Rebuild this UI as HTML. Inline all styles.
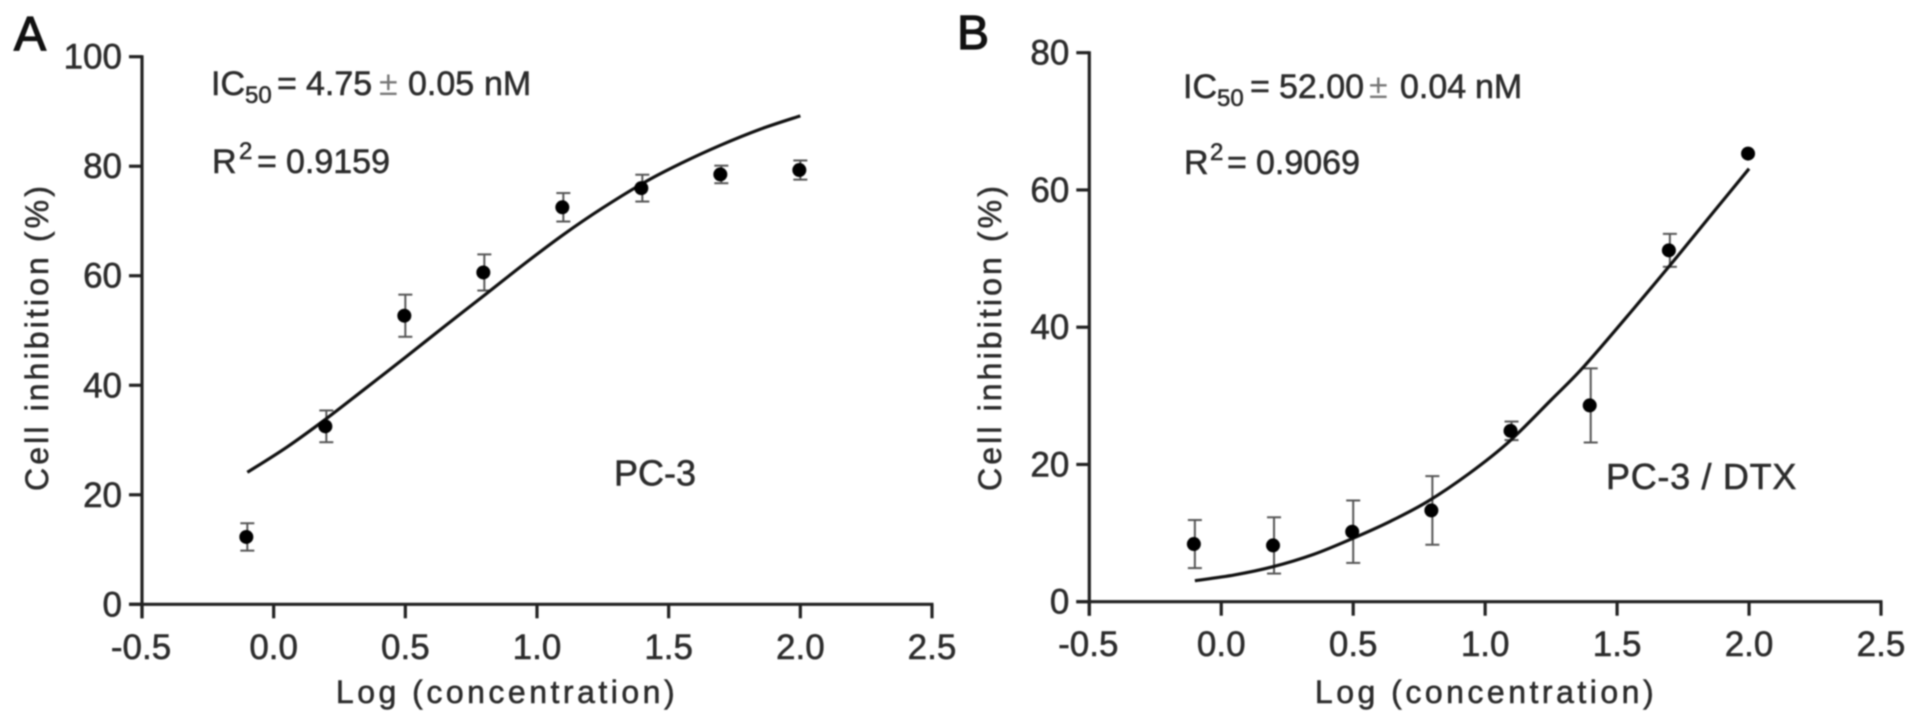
<!DOCTYPE html>
<html lang="en">
<head>
<meta charset="utf-8">
<title>Cell inhibition dose-response curves</title>
<style>
html,body{margin:0;padding:0;background:#fff;width:1913px;height:724px;overflow:hidden}
svg{display:block;filter:blur(0.7px)}
text{font-family:"Liberation Sans",Arial,sans-serif;fill:#2c2c2c;stroke:#2c2c2c;stroke-width:0.55px}
.tick{font-size:35px}
.title{font-size:32px}
.note{font-size:34px}
.sub{font-size:24px}
.pm{fill:#777;stroke:none}
.letter{font-size:48px;fill:#111;stroke:#111;stroke-width:1.3px}
</style>
</head>
<body>
<svg id="figure" xmlns="http://www.w3.org/2000/svg" width="1913" height="724" viewBox="0 0 1913 724">
  <rect width="1913" height="724" fill="#fff"/>

  <g id="panel-a">
    <text class="letter" x="14" y="50">A</text>
    <text class="note" x="211" y="95">IC<tspan class="sub" x="245" y="103">50</tspan><tspan x="277" y="95">=</tspan><tspan x="306" y="95">4.75</tspan><tspan class="pm" x="379" y="95">±</tspan><tspan x="408" y="95">0.05</tspan><tspan x="484" y="95">nM</tspan></text>
    <text class="note" x="212" y="173">R<tspan class="sub" x="239" y="159">2</tspan><tspan x="257" y="173">=</tspan><tspan x="286" y="173">0.9159</tspan></text>
    <text class="note" x="614" y="485.5" font-size="36" style="font-size:36px">PC-3</text>
    <text class="title" x="507" y="703" text-anchor="middle" letter-spacing="3.5">Log (concentration)</text>
    <text class="title" transform="translate(48 337) rotate(-90)" text-anchor="middle" letter-spacing="3.1">Cell inhibition (%)</text>
  </g>

  <g id="panel-b">
    <text class="letter" x="957" y="49">B</text>
    <text class="note" x="1183" y="98">IC<tspan class="sub" x="1217" y="106">50</tspan><tspan x="1250" y="98">=</tspan><tspan x="1279" y="98">52.00</tspan><tspan class="pm" x="1369" y="98">±</tspan><tspan x="1400" y="98">0.04</tspan><tspan x="1475" y="98">nM</tspan></text>
    <text class="note" x="1184" y="174">R<tspan class="sub" x="1210" y="160">2</tspan><tspan x="1227" y="174">=</tspan><tspan x="1256" y="174">0.9069</tspan></text>
    <text class="note" x="1606" y="489" letter-spacing="0.7" style="font-size:36px">PC-3 / DTX</text>
    <text class="title" x="1486" y="703" text-anchor="middle" letter-spacing="3.5">Log (concentration)</text>
    <text class="title" transform="translate(1001 337) rotate(-90)" text-anchor="middle" letter-spacing="3.1">Cell inhibition (%)</text>
  </g>
</svg>

<script>
// Shared x data
var doseLog = [-0.1, 0.2, 0.5, 0.8, 1.1, 1.4, 1.7, 2.0];
var xTicks = [-0.5, 0.0, 0.5, 1.0, 1.5, 2.0, 2.5];
var xTickLabels = ['-0.5', '0.0', '0.5', '1.0', '1.5', '2.0', '2.5'];

// Panel A data
var aInhibition = [12.3, 32.5, 52.7, 60.6, 72.5, 76.0, 78.5, 79.3];
var aError = [2.5, 2.9, 3.85, 3.3, 2.6, 2.45, 1.6, 1.75];
var aCurveLog = [-0.1, 0.05, 0.2, 0.34, 0.5, 0.65, 0.81, 0.95, 1.1, 1.25, 1.417, 1.55, 1.695, 1.85, 2.0];
var aCurveValue = [24.1, 28.7, 33.9, 39.1, 45.1, 50.8, 56.8, 62.1, 67.5, 72.4, 77.3, 80.6, 83.8, 86.8, 89.2];
var aYTicks = [0, 20, 40, 60, 80, 100];

// Panel B data
var bInhibition = [8.4, 8.2, 10.2, 13.3, 24.9, 28.6, 51.2, 65.3];
var bError = [3.5, 4.1, 4.55, 5.0, 1.35, 5.4, 2.4, 0];
var bCurveLog = [-0.1, 0.05, 0.196, 0.35, 0.499, 0.64, 0.782, 0.94, 1.09, 1.25, 1.375, 1.565, 1.728, 1.87, 2.0];
var bCurveValue = [3.06, 3.9, 5.1, 6.9, 9.24, 11.7, 14.6, 18.7, 23.3, 29.4, 34.3, 42.8, 50.3, 57.0, 63.1];
var bYTicks = [0, 20, 40, 60, 80];

var SVGNS = 'http://www.w3.org/2000/svg';
var AXIS = '#222';

function makeLine(parent, x1, y1, x2, y2, color, width) {
  var l = document.createElementNS(SVGNS, 'line');
  l.setAttribute('x1', x1);
  l.setAttribute('y1', y1);
  l.setAttribute('x2', x2);
  l.setAttribute('y2', y2);
  l.setAttribute('stroke', color);
  l.setAttribute('stroke-width', width);
  parent.appendChild(l);
  return l;
}

function curvePath(xs, ys) {
  // Catmull-Rom smoothing through the read curve samples
  var d = 'M' + xs[0].toFixed(2) + ' ' + ys[0].toFixed(2);
  for (var i = 0; i < xs.length - 1; i++) {
    var i0 = Math.max(i - 1, 0), i3 = Math.min(i + 2, xs.length - 1);
    var c1x = xs[i] + (xs[i + 1] - xs[i0]) / 6, c1y = ys[i] + (ys[i + 1] - ys[i0]) / 6;
    var c2x = xs[i + 1] - (xs[i3] - xs[i]) / 6, c2y = ys[i + 1] - (ys[i3] - ys[i]) / 6;
    d += 'C' + c1x.toFixed(2) + ' ' + c1y.toFixed(2) + ' ' + c2x.toFixed(2) + ' ' + c2y.toFixed(2) + ' ' + xs[i + 1].toFixed(2) + ' ' + ys[i + 1].toFixed(2);
  }
  return d;
}

function drawPanel(groupId, frame, yTicks, values, errors, curveLog, curveValue) {
  var g = document.getElementById(groupId);
  var xOf = function (v) { return frame.x0 + (v - (-0.5)) / 3 * (frame.x1 - frame.x0); };
  var yOf = function (v) { return frame.y0 - v / yTicks[yTicks.length - 1] * (frame.y0 - frame.y1); };

  // axes
  var yAxis = makeLine(g, frame.x0, frame.y1 - 1.5, frame.x0, frame.y0 + 14, AXIS, 3.2);
  
  
  var xAxis = makeLine(g, frame.x0 - 13, frame.y0, frame.x1 + 1.5, frame.y0, AXIS, 3.2);
  
  

  // y ticks
  yTicks.forEach(function (t) {
    var tick = makeLine(g, frame.x0 - 13, yOf(t), frame.x0, yOf(t), AXIS, 3.2);
    
    
    var label = document.createElementNS(SVGNS, 'text');
    label.setAttribute('class', 'tick');
    label.setAttribute('x', frame.x0 - 20);
    label.setAttribute('y', yOf(t) + 12);
    label.setAttribute('text-anchor', 'end');
    
    
    label.textContent = String(t);
    g.appendChild(label);
  });

  // x ticks
  xTicks.forEach(function (t, i) {
    var tick = makeLine(g, xOf(t), frame.y0, xOf(t), frame.y0 + 14, AXIS, 3.2);
    
    
    var label = document.createElementNS(SVGNS, 'text');
    label.setAttribute('class', 'tick');
    label.setAttribute('x', xOf(t) + (i === 0 ? -1 : 0));
    label.setAttribute('y', frame.tickBase);
    label.setAttribute('text-anchor', 'middle');
    
    
    label.textContent = xTickLabels[i];
    g.appendChild(label);
  });

  // error bars
  doseLog.forEach(function (d, i) {
    if (!errors[i]) return;
    var px = xOf(d), top = yOf(values[i] + errors[i]), bot = yOf(values[i] - errors[i]);
    var stem = makeLine(g, px, top, px, bot, '#555', 2);
    
    
    var capTop = makeLine(g, px - 7, top, px + 7, top, '#555', 2);
    
    
    var capBot = makeLine(g, px - 7, bot, px + 7, bot, '#555', 2);
    
    
  });

  // fit curve
  var path = document.createElementNS(SVGNS, 'path');
  path.setAttribute('d', curvePath(curveLog.map(xOf), curveValue.map(yOf)));
  path.setAttribute('fill', 'none');
  path.setAttribute('stroke', '#111');
  path.setAttribute('stroke-width', '3.2');
  
  
  g.appendChild(path);

  // markers
  doseLog.forEach(function (d, i) {
    var c = document.createElementNS(SVGNS, 'circle');
    c.setAttribute('cx', xOf(d) - 1);
    c.setAttribute('cy', yOf(values[i]));
    c.setAttribute('r', 7);
    c.setAttribute('fill', '#000');
    
    
    g.appendChild(c);
  });
}

drawPanel('panel-a', {x0: 142, x1: 932, y0: 604.3, y1: 56.7, tickBase: 659}, aYTicks, aInhibition, aError, aCurveLog, aCurveValue);
drawPanel('panel-b', {x0: 1089.3, x1: 1881, y0: 601.7, y1: 52.7, tickBase: 656}, bYTicks, bInhibition, bError, bCurveLog, bCurveValue);
</script>
</body>
</html>
